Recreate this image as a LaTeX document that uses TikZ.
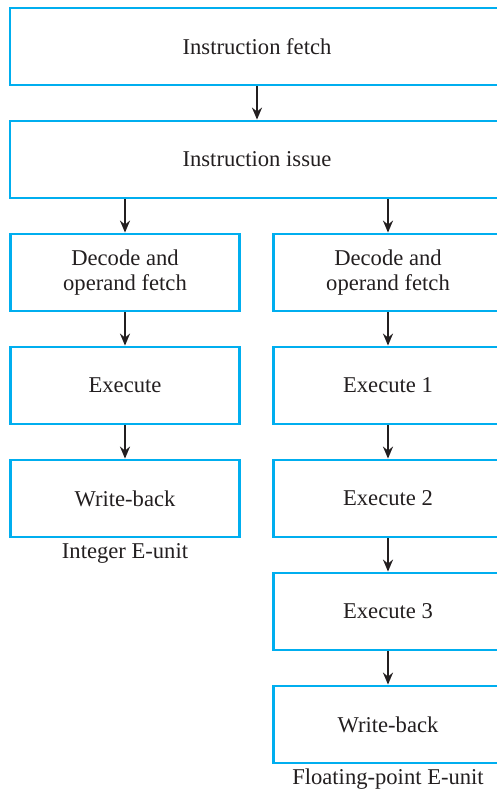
\documentclass[tikz,border=0pt]{standalone}
\usepackage{fontspec}
\setmainfont{LiberationSerif}[Extension=.ttf, UprightFont=*-Regular,
  BoldFont=*-Bold, ItalicFont=*-Italic, BoldItalicFont=*-BoldItalic]
\usepackage{xcolor}
\usepackage{tikz}
\usetikzlibrary{arrows.meta}

\definecolor{stageblue}{RGB}{0,174,239}
\definecolor{inkgray}{RGB}{35,31,32}

\tikzset{
  stage/.style={draw=stageblue, line width=1.4pt, rectangle, inner sep=0pt,
    minimum height=38.5pt, align=center, text=inkgray,
    font=\fontsize{11.3}{12.2}\selectfont},
  wide/.style={stage, minimum width=247pt},
  col/.style={stage, minimum width=114.5pt},
  flow/.style={-{Stealth[length=6pt, width=5pt]}, line width=1pt, draw=inkgray},
  unitlabel/.style={text=inkgray, font=\fontsize{11.3}{12.2}\selectfont}
}

\begin{document}
\begin{tikzpicture}[x=0.5pt, y=-0.5pt]
    \useasboundingbox (0,0) rectangle (497,793);
    \clip (0,0) rectangle (497,793);

    % Common stages
    \node[wide] (fetch) at (257,46.5) {Instruction fetch};
    \node[wide] (issue) at (257,159.5) {Instruction issue};

    % Integer E-unit
    \node[col] (idec) at (125,272.5) {Decode and\\operand fetch};
    \node[col] (iex)  at (125,385.5) {Execute};
    \node[col] (iwb)  at (125,498.5) {Write-back};
    \node[unitlabel] (ilabel) at (125,553) {Integer E-unit};

    % Floating-point E-unit
    \node[col] (fdec) at (388,272.5) {Decode and\\operand fetch};
    \node[col] (fex1) at (388,385.5) {Execute 1};
    \node[col] (fex2) at (388,498.5) {Execute 2};
    \node[col] (fex3) at (388,611.5) {Execute 3};
    \node[col] (fwb)  at (388,724.5) {Write-back};
    \node[unitlabel] (flabel) at (388,779) {Floating-point E-unit};

    % Connections
    \draw[flow] (fetch) -- (issue);
    \draw[flow] (issue.south -| idec.north) -- (idec.north);
    \draw[flow] (issue.south -| fdec.north) -- (fdec.north);
    \draw[flow] (idec) -- (iex);
    \draw[flow] (iex) -- (iwb);
    \draw[flow] (fdec) -- (fex1);
    \draw[flow] (fex1) -- (fex2);
    \draw[flow] (fex2) -- (fex3);
    \draw[flow] (fex3) -- (fwb);
\end{tikzpicture}
\end{document}
